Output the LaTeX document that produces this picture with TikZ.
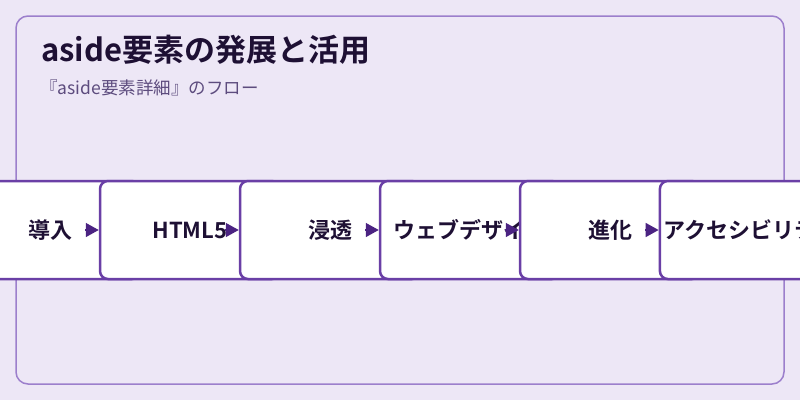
\documentclass[tikz,border=0pt]{standalone}
\usepackage{fontspec}
\setmainfont{Noto Sans CJK JP}[BoldFont={* Bold}]
\usepackage{xcolor}
\usetikzlibrary{arrows.meta,positioning}
\definecolor{bgpurple}{HTML}{EDE7F6}
\definecolor{framepurple}{HTML}{9C7FCC}
\definecolor{boxpurple}{HTML}{6A3FA6}
\definecolor{arrowpurple}{HTML}{4B2382}
\definecolor{inkdark}{HTML}{1E1034}
\definecolor{subgray}{HTML}{5D4C7E}
\tikzset{%
	stage/.style    = {draw=boxpurple, fill=white, line width=2.5pt, rounded corners=8pt, minimum width=180pt, minimum height=98pt, text centered, text=inkdark, font=\fontsize{22}{26}\selectfont\bfseries},
	flow/.style     = {draw=arrowpurple, line width=1.5pt, shorten <=35pt, -{Triangle[length=13pt,width=14pt]}},
	heading/.style  = {anchor=base west, inner sep=0pt, text=inkdark, font=\fontsize{31}{36}\selectfont\bfseries},
	subhead/.style  = {anchor=base west, inner sep=0pt, text=subgray, font=\fontsize{17.5}{21}\selectfont},
}
\begin{document}
\begin{tikzpicture}[x=1pt,y=-1pt]
		\clip (0,0) rectangle (800,400);
		\fill[bgpurple] (0,0) rectangle (800,400);  % page
		\draw[framepurple, line width=1.5pt, rounded corners=12pt] (16,16) rectangle (784,384);  % frame
		\node[heading] (title) at (41,61) {aside要素の発展と活用};
		\node[subhead] (subtitle) at (40,94) {『aside要素詳細』のフロー};
		\node[stage] (b1) at (50,230)  {導入};
		\node[stage] (b2) at (190,230) {HTML5};
		\node[stage] (b3) at (330,230) {浸透};
		\node[stage] (b4) at (470,230) {ウェブデザイン};
		\node[stage] (b5) at (610,230) {進化};
		\node[stage] (b6) at (750,230) {アクセシビリティ};
		\draw[flow] (b1.center) -- (b2.west);
		\draw[flow] (b2.center) -- (b3.west);
		\draw[flow] (b3.center) -- (b4.west);
		\draw[flow] (b4.center) -- (b5.west);
		\draw[flow] (b5.center) -- (b6.west);
\end{tikzpicture}
\end{document}
